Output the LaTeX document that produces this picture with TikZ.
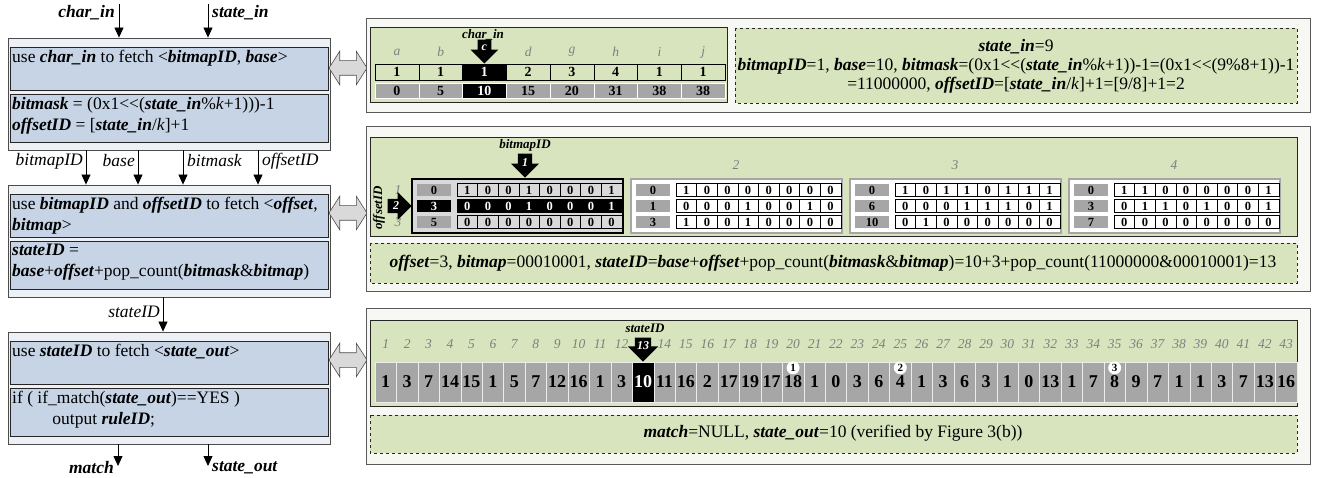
\documentclass[tikz,border=0pt]{standalone}
\usepackage{fontspec}
\setmainfont{Liberation Serif}
\usepackage{xcolor}
\usetikzlibrary{arrows.meta,shapes.arrows}

\definecolor{boxblue}{HTML}{C6D4E6}
\definecolor{boxpale}{HTML}{EDF1F6}
\definecolor{panelbg}{HTML}{F7F8F3}
\definecolor{olive}{HTML}{D7E4BD}
\definecolor{cellgray}{HTML}{A6A6A6}
\definecolor{lightcell}{HTML}{D9D9D9}
\definecolor{idxgray}{HTML}{7F7F7F}

\newcommand{\bi}[1]{\textbf{\textit{#1}}}

\begin{document}
\begin{tikzpicture}[x=1pt,y=-1pt,>={Triangle[width=9pt,length=10pt]},
  font=\fontsize{17.5}{21}\selectfont,
  stage/.style={draw=black!70,fill=boxpale,line width=0.8pt,minimum width=322pt,minimum height=112pt,inner sep=0pt},
  stepbox/.style={draw=black!85,fill=boxblue,line width=0.8pt,minimum width=318pt,inner sep=0pt,anchor=north west},
  steptext/.style={anchor=north west,align=left,inner sep=0pt},
  flow/.style={->,line width=0.8pt},
  varlab/.style={inner sep=1pt,font=\fontsize{17.5}{17.5}\selectfont\itshape},
  iolab/.style={inner sep=1pt,font=\fontsize{17.5}{17.5}\selectfont\bfseries\itshape},
  panel/.style={draw=black!65,fill=panelbg,line width=1pt},
  greenbox/.style={draw=black!85,fill=olive,line width=1pt},
  notebox/.style={draw=black!85,fill=olive,dashed,line width=0.8pt},
  swap/.style={double arrow,draw=black!70,fill=lightcell,line width=0.6pt,inner sep=7pt,minimum height=38pt,double arrow head extend=9.5pt,double arrow tip angle=115},
  idx/.style={text=idxgray,font=\fontsize{13.5}{13.5}\selectfont\itshape},
  ptr/.style={font=\fontsize{13}{13}\selectfont\bfseries\itshape},
  pick/.style={single arrow,fill=black,text=white,font=\fontsize{12}{12}\selectfont\bfseries\itshape,inner xsep=4pt,inner ysep=1.5pt,single arrow head extend=7pt,single arrow head indent=0pt,minimum height=24pt,shape border rotate=270,anchor=tip},
  chcell/.style={draw=black,fill=olive,minimum width=43.75pt,minimum height=16pt,inner sep=0pt,font=\fontsize{14}{14}\selectfont\bfseries},
  basecell/.style={chcell,draw=white,fill=cellgray,minimum height=15pt},
  offcell/.style={fill=cellgray,minimum width=34pt,minimum height=12pt,inner sep=0pt,font=\fontsize{12.5}{12.5}\selectfont\bfseries},
  bitcell/.style={draw=black,fill=white,minimum width=20.6pt,minimum height=13pt,inner sep=0pt,font=\fontsize{12.5}{12.5}\selectfont\bfseries},
  outcell/.style={draw=white!85!gray,fill=cellgray,minimum width=21.44pt,minimum height=40pt,inner sep=0pt,font=\fontsize{18}{18}\selectfont\bfseries},
  hitdot/.style={circle,fill=white,minimum size=13pt,inner sep=0pt,font=\fontsize{11}{11}\selectfont\bfseries}]

\useasboundingbox (0,0) rectangle (1320,478);

% left column: the three stages
\node (st1) [stage] at (169,94) {};
\node (st1a) [stepbox,minimum height=43pt] at (10,47) {};
\node (st1b) [stepbox,minimum height=48pt] at (10,94) {};
\node (t1a) [steptext] at ([shift={(2,3)}]st1a.north west) {use \bi{char\_in} to fetch <\bi{bitmapID}, \bi{base}>};
\node (t1b) [steptext] at ([shift={(2,3)}]st1b.north west) {\bi{bitmask} = (0x1<{}<(\bi{state\_in}\%\textit{k}+1)))-1\\\bi{offsetID} = [\bi{state\_in}/\textit{k}]+1};

\node (st2) [stage] at (169,241) {};
\node (st2a) [stepbox,minimum height=43pt] at (10,194) {};
\node (st2b) [stepbox,minimum height=48pt] at (10,241) {};
\node (t2a) [steptext] at ([shift={(2,3)}]st2a.north west) {use \bi{bitmapID} and \bi{offsetID} to fetch <\bi{offset},\\\bi{bitmap}>};
\node (t2b) [steptext] at ([shift={(2,3)}]st2b.north west) {\bi{stateID} =\\\bi{base}+\bi{offset}+pop\_count(\bi{bitmask}\&\bi{bitmap})};

\node (st3) [stage] at (169,388) {};
\node (st3a) [stepbox,minimum height=43pt] at (10,341) {};
\node (st3b) [stepbox,minimum height=48pt] at (10,388) {};
\node (t3a) [steptext] at ([shift={(2,3)}]st3a.north west) {use \bi{stateID} to fetch <\bi{state\_out}>};
\node (t3b) [steptext] at ([shift={(2,3)}]st3b.north west) {if ( if\_match(\bi{state\_out})==YES )\\\hspace*{2.3em}output \bi{ruleID};};

% inputs, links and outputs
\coordinate (cin) at (119,4);
\coordinate (sin) at (208,4);
\draw[flow] (cin) -- (cin |- st1.north);
\draw[flow] (sin) -- (sin |- st1.north);
\node (lcin) [iolab,anchor=east] at (116,13) {char\_in};
\node (lsin) [iolab,anchor=west] at (211,13) {state\_in};

\foreach \x in {86,138,183,258}
  \draw[flow] (\x,0 |- st1.south) -- (\x,0 |- st2.north);
\node (lbid) [varlab,anchor=east] at (84,161) {bitmapID};
\node (lbase) [varlab,anchor=east] at (136,161) {base};
\node (lmask) [varlab,anchor=west] at (186,161) {bitmask};
\node (loid) [varlab,anchor=west] at (261,161) {offsetID};

\draw[flow] (163,0 |- st2.south) -- (163,0 |- st3.north);
\node (lsid) [varlab,anchor=east] at (161,312) {stateID};

\coordinate (mout) at (118,466);
\coordinate (sout) at (208,466);
\draw[flow] (mout |- st3.south) -- (mout);
\draw[flow] (sout |- st3.south) -- (sout);
\node (lmat) [iolab,anchor=east] at (115,468) {match};
\node (lsout) [iolab,anchor=west] at (211,468) {state\_out};

\node (sw1) [swap] at (348,68) {};
\node (sw2) [swap] at (348,213) {};
\node (sw3) [swap] at (348,360) {};

% panel 1: char table
\draw[panel] (366,19) rectangle (1310,113);
\draw[greenbox] (370,28) rectangle (727,103);
\draw[notebox] (735,28) rectangle (1297,103);
\foreach \ltr/\cnt/\bse [count=\col from 0] in {a/1/0,b/1/5,c/1/10,d/2/15,g/3/20,h/4/31,i/1/38,j/1/38}{
  \ifnum\col=2 \tikzset{cur/.style={fill=black,text=white}}\else\tikzset{cur/.style={}}\fi
  \node (ch\col) [chcell,cur] at ({396.9+43.75*\col},72) {\cnt};
  \node (bs\col) [basecell,cur] at ({396.9+43.75*\col},90.5) {\bse};
  \ifnum\col=2 \else\node (lt\col) [idx] at ({396.9+43.75*\col},52) {\ltr};\fi
}
\node (lch) [ptr] at (483,35) {char\_in};
\node (ach) [pick] at (ch2.north) {c};
\node (n1) [align=center,font=\fontsize{17.5}{19}\selectfont] at (1016,66) {\bi{state\_in}=9\\
  \bi{bitmapID}=1, \bi{base}=10, \bi{bitmask}=(0x1<{}<(\bi{state\_in}\%\textit{k}+1))-1=(0x1<{}<(9\%8+1))-1\\
  =11000000, \bi{offsetID}=[\bi{state\_in}/\textit{k}]+1=[9/8]+1=2};

% panel 2: bitmap tables
\draw[panel] (366,127) rectangle (1310,292);
\draw[greenbox] (370,138) rectangle (1297,237);
\draw[notebox] (370,243) rectangle (1297,283);
\draw[line width=2.2pt,fill=lightcell] (412,179) rectangle +(211,54);
\foreach \tb in {2,3,4}{
  \draw[draw=black!35,line width=1.4pt,fill=white] ({412+219*(\tb-1)},179) rectangle +(211,54);
  \node (tl\tb) [idx] at ({517+219*(\tb-1)},165) {\tb};
}
\foreach \tb/\rw/\off/\bits in {1/1/0/{1,0,0,1,0,0,0,1},1/2/3/{0,0,0,1,0,0,0,1},1/3/5/{0,0,0,0,0,0,0,0},
  2/1/0/{1,0,0,0,0,0,0,0},2/2/1/{0,0,0,1,0,0,1,0},2/3/3/{1,0,0,1,0,0,0,0},
  3/1/0/{1,0,1,1,0,1,1,1},3/2/6/{0,0,0,1,1,1,0,1},3/3/10/{0,1,0,0,0,0,0,0},
  4/1/0/{1,1,0,0,0,0,0,1},4/2/3/{0,1,1,0,1,0,0,1},4/3/7/{0,0,0,0,0,0,0,0}}{
  \ifnum\tb\rw=12 \tikzset{cur/.style={fill=black,text=white},curbit/.style={fill=black,draw=black,text=white}}%
  \else\ifnum\tb=1 \tikzset{cur/.style={},curbit/.style={fill=lightcell}}%
  \else\tikzset{cur/.style={},curbit/.style={}}\fi\fi
  \node (o\tb\rw) [offcell,cur] at ({434+219*(\tb-1)},{174+16*\rw}) {\off};
  \foreach \bt [count=\nm from 0] in \bits
    \node (b\tb\rw\nm) [bitcell,curbit] at ({467.3+219*(\tb-1)+20.6*\nm},{174+16*\rw}) {\bt};
}
\node (rl1) [idx] at (398,190) {1};
\node (rl3) [idx] at (398,222) {3};
\node (arw) [pick,shape border rotate=0,inner xsep=1.5pt,inner ysep=3pt] at (412,206) {2};
\node (loff) [ptr,rotate=90] at (379,208) {offsetID};
\node (lbm) [ptr] at (525,145) {bitmapID};
\node (abm) [pick] at (525,178) {1};
\node (n2) at (833,263) {\bi{offset}=3, \bi{bitmap}=00010001, \bi{stateID}=\bi{base}+\bi{offset}+pop\_count(\bi{bitmask}\&\bi{bitmap})=10+3+pop\_count(11000000\&00010001)=13};

% panel 3: state_out array
\draw[panel] (366,309) rectangle (1310,464);
\draw[greenbox] (370,321) rectangle (1297,406);
\draw[notebox] (370,415) rectangle (1297,453);
\foreach \val [count=\nm] in {1,3,7,14,15,1,5,7,12,16,1,3,10,11,16,2,17,19,17,18,1,0,3,6,4,1,3,6,3,1,0,13,1,7,8,9,7,1,1,3,7,13,16}{
  \ifnum\nm=13 \tikzset{cur/.style={fill=black,text=white}}\else\tikzset{cur/.style={}}\fi
  \node (c\nm) [outcell,cur] at ({375+21.44*(\nm-0.5)},382) {\val};
  \ifnum\nm=13 \else\node (ix\nm) [idx] at ({375+21.44*(\nm-0.5)},344) {\nm};\fi
}
\node (lst) [ptr] at (645,328) {stateID};
\node (ast) [pick,inner xsep=2pt] at (c13.north) {13};
\node (d1) [hitdot] at ([yshift=-6pt]c20.north) {1};
\node (d2) [hitdot] at ([yshift=-6pt]c25.north) {2};
\node (d3) [hitdot] at ([yshift=-6pt]c35.north) {3};
\node (n3) at (833,433) {\bi{match}=NULL, \bi{state\_out}=10 (verified by Figure 3(b))};
\end{tikzpicture}
\end{document}
